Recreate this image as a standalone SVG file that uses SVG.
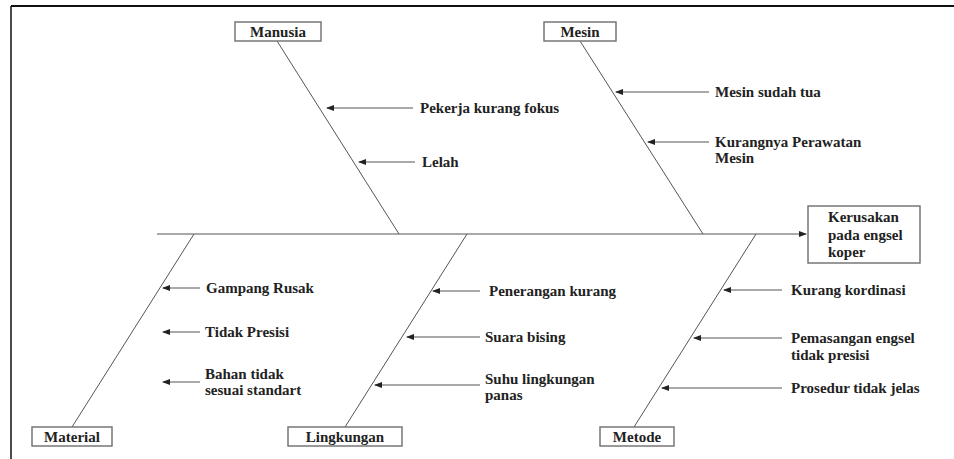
<svg xmlns="http://www.w3.org/2000/svg" width="954" height="459" viewBox="0 0 954 459">
<style>
text{font-family:'Liberation Serif','Times New Roman',Tinos,'DejaVu Serif',serif;font-weight:700;font-size:15px;fill:#222}
.c{text-anchor:middle}
.box{fill:#fff;stroke:#777;stroke-width:1.5}
.bone{stroke:#555;stroke-width:1;fill:none}
.arr{stroke:#555;stroke-width:1;fill:none;marker-end:url(#ah)}
</style>
<defs>
<marker id="ah" markerWidth="8" markerHeight="6" refX="7" refY="3" orient="auto" markerUnits="userSpaceOnUse">
<path d="M0,0 L8,3 L0,6 Z" fill="#222"/>
</marker>
</defs>
<rect width="954" height="459" fill="#fff"/>
<g id="frame">
<line x1="11" y1="6" x2="954" y2="6" stroke="#111" stroke-width="2"/>
<line x1="11" y1="6" x2="11" y2="459" stroke="#111" stroke-width="1.5"/>
</g>
<g id="connectors">
<line class="arr" x1="157" y1="234" x2="806" y2="234"/>
<line class="bone" x1="277" y1="41" x2="399" y2="234"/>
<line class="bone" x1="580" y1="41" x2="703" y2="234"/>
<line class="bone" x1="194" y1="234" x2="72" y2="427"/>
<line class="bone" x1="467" y1="234" x2="345" y2="427"/>
<line class="bone" x1="756" y1="234" x2="634" y2="427"/>
<line class="arr" x1="413" y1="108" x2="327" y2="108"/>
<line class="arr" x1="415" y1="162" x2="359" y2="162"/>
<line class="arr" x1="709" y1="92" x2="616" y2="92"/>
<line class="arr" x1="709" y1="142" x2="648" y2="142"/>
<line class="arr" x1="200" y1="288" x2="163" y2="288"/>
<line class="arr" x1="200" y1="332" x2="163" y2="332"/>
<line class="arr" x1="200" y1="382" x2="163" y2="382"/>
<line class="arr" x1="480" y1="291" x2="433" y2="291"/>
<line class="arr" x1="480" y1="337" x2="407" y2="337"/>
<line class="arr" x1="480" y1="385" x2="375" y2="385"/>
<line class="arr" x1="782" y1="290" x2="724" y2="290"/>
<line class="arr" x1="782" y1="338" x2="694" y2="338"/>
<line class="arr" x1="782" y1="388" x2="662" y2="388"/>
</g>
<g id="manusia">
<rect class="box" x="235" y="22" width="86" height="19"/>
<text class="c" x="278" y="37">Manusia</text>
</g>
<g id="mesin">
<rect class="box" x="544" y="22" width="72" height="19"/>
<text class="c" x="580" y="37">Mesin</text>
</g>
<g id="material">
<rect class="box" x="32" y="427" width="80" height="19"/>
<text class="c" x="72" y="442">Material</text>
</g>
<g id="lingkungan">
<rect class="box" x="288" y="427" width="114" height="19"/>
<text class="c" x="345" y="442">Lingkungan</text>
</g>
<g id="metode">
<rect class="box" x="600" y="427" width="74" height="19"/>
<text class="c" x="637" y="442">Metode</text>
</g>
<g id="effect">
<rect class="box" x="808" y="206" width="112" height="57"/>
<text x="828" y="222">Kerusakan</text>
<text x="828" y="240">pada engsel</text>
<text x="828" y="257">koper</text>
</g>
<g id="causes">
<text x="420" y="113">Pekerja kurang fokus</text>
<text x="422" y="167">Lelah</text>
<text x="715" y="97">Mesin sudah tua</text>
<text x="715" y="147">Kurangnya Perawatan</text>
<text x="715" y="163">Mesin</text>
<text x="206" y="293">Gampang Rusak</text>
<text x="205" y="337">Tidak Presisi</text>
<text x="205" y="379">Bahan tidak</text>
<text x="205" y="395">sesuai standart</text>
<text x="489" y="296">Penerangan kurang</text>
<text x="485" y="342">Suara bising</text>
<text x="485" y="384">Suhu lingkungan</text>
<text x="485" y="400">panas</text>
<text x="791" y="295">Kurang kordinasi</text>
<text x="791" y="343">Pemasangan engsel</text>
<text x="791" y="360">tidak presisi</text>
<text x="791" y="393">Prosedur tidak jelas</text>
</g>
</svg>
